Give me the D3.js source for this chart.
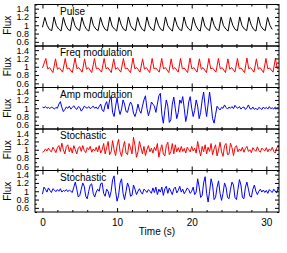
<!DOCTYPE html>
<html><head><meta charset="utf-8">
<script src="https://cdn.jsdelivr.net/npm/d3@7"></script>
<style>body{margin:0;background:#fff}svg{display:block}text{font-family:"Liberation Sans",Arial,sans-serif}</style>
</head><body><svg id="c" width="287" height="253"></svg>
<script>
// ---------------- data ----------------
const panelTitles = ["Pulse", "Freq modulation", "Amp modulation", "Stochastic", "Stochastic"];
const panelColors = ["#000000", "#ff0000", "#0000ff", "#ff0000", "#0000ff"];
const yTickLabels = [0.6, 0.8, 1.0, 1.2, 1.4];
const xTickLabels = [0, 10, 20, 30];

// Pulse: sampled every pulseStep seconds
const pulseStep = 0.311;
const pulseFlux = [0.95,1.19,1.0,0.9, 0.87,1.2,0.99,0.91, 0.86,1.19,1.0,0.9, 0.87,1.2,0.99,0.91,
  0.87,1.19,1.0,0.9, 0.86,1.2,0.99,0.91, 0.87,1.19,1.0,0.9, 0.87,1.2,0.98,0.91, 0.86,1.19,1.0,0.9,
  0.87,1.2,0.99,0.91, 0.87,1.19,1.0,0.9, 0.86,1.2,0.99,0.91, 0.87,1.19,1.0,0.9, 0.87,1.2,0.99,0.91,
  0.86,1.19,1.0,0.9, 0.87,1.2,0.99,0.91, 0.87,1.19,1.0,0.9, 0.86,1.2,0.98,0.91, 0.87,1.19,1.0,0.9,
  0.87,1.2,0.99,0.91, 0.86,1.19,1.0,0.9, 0.87,1.2,0.99,0.91, 0.87,1.19,1.0,0.9, 0.86,1.2,0.99,0.91,
  0.87,1.19,1.0,0.9];

// Frequency modulation: explicit times and fluxes
const freqTime = [0,
  0.45,0.70,0.95,1.40, 1.75,2.00,2.25,2.70, 3.05,3.30,3.55,4.00, 4.37,4.62,4.87,5.32,
  5.65,5.90,6.15,6.60, 6.97,7.22,7.47,7.92, 8.27,8.52,8.77,9.22, 9.55,9.80,10.05,10.50,
  10.85,11.10,11.35,11.80, 12.13,12.38,12.63,13.08, 13.42,13.67,13.92,14.37, 14.70,14.95,15.20,15.65,
  15.98,16.23,16.48,16.93, 17.25,17.50,17.75,18.20, 18.50,18.75,19.00,19.45, 19.77,20.02,20.27,20.72,
  21.03,21.28,21.53,21.98, 22.30,22.55,22.80,23.25, 23.58,23.83,24.08,24.53, 24.85,25.10,25.35,25.80,
  26.13,26.38,26.63,27.08, 27.40,27.65,27.90,28.35, 28.67,28.92,29.17,29.62, 29.95,30.20,30.45,30.90,
  31.22,31.47,31.72,32.00];
const freqFlux = [0.97,
  1.2,0.95,0.98,0.86, 1.19,0.94,0.98,0.87, 1.2,0.95,0.97,0.86, 1.21,0.95,0.98,0.87,
  1.19,0.94,0.98,0.86, 1.2,0.95,0.97,0.87, 1.2,0.95,0.98,0.86, 1.19,0.94,0.98,0.87,
  1.2,0.95,0.97,0.86, 1.21,0.95,0.98,0.87, 1.19,0.94,0.98,0.86, 1.2,0.95,0.97,0.87,
  1.2,0.95,0.98,0.86, 1.19,0.94,0.98,0.87, 1.2,0.95,0.97,0.86, 1.21,0.95,0.98,0.87,
  1.19,0.94,0.98,0.86, 1.2,0.95,0.97,0.87, 1.2,0.95,0.98,0.86, 1.19,0.94,0.98,0.87,
  1.2,0.95,0.97,0.86, 1.21,0.95,0.98,0.87, 1.19,0.94,0.98,0.86, 1.2,0.95,0.97,0.87,
  1.2,0.95,0.98,0.88];

// Amplitude modulation and stochastic series: sampled every sampleStep seconds from t=0
const sampleStep = 0.2;
const ampFlux = [1.03,1.01,1.04,1.0,1.02,0.99,1.03,1.01,0.98,1.02,
  1.0,1.1,1.16,1.02,0.92,0.97,1.03,1.0,1.05,0.98,
  1.02,1.06,1.0,0.97,1.04,1.02,0.93,0.98,1.05,1.02,
  1.0,1.04,0.99,1.02,1.05,1.0,1.03,0.98,1.04,1.1,
  0.96,0.92,1.08,1.16,0.98,1.2,1.28,0.9,0.8,1.05,
  1.25,1.0,0.85,0.98,1.2,1.1,0.92,0.9,1.05,1.15,
  1.08,0.88,0.8,0.92,1.1,0.95,0.88,1.05,1.2,1.3,
  1.0,0.82,0.95,1.15,1.1,1.05,0.9,1.1,1.3,1.36,
  0.85,0.64,0.95,1.2,1.05,0.66,0.72,1.1,1.27,1.0,
  0.75,0.9,1.2,1.12,1.28,1.0,0.68,0.85,1.15,1.28,
  1.0,0.8,0.95,1.2,1.05,0.75,0.9,1.2,1.39,1.05,
  0.8,1.1,1.39,1.1,0.75,0.64,0.85,1.05,1.0,0.96,
  1.02,1.0,1.08,1.02,0.98,1.03,1.0,1.04,0.99,1.07,
  1.02,1.0,1.04,0.98,1.02,1.03,0.97,1.01,1.08,0.99,
  0.98,1.03,0.97,1.0,0.96,1.02,1.0,0.97,1.03,0.99,
  1.02,0.98,1.04,0.99,1.01,0.98,1.03,1.0,1.02,0.99,1.01];

const stochRedFlux = [0.94,0.96,1.02,0.97,1.04,0.98,0.95,1.06,1.0,0.93,
  1.05,1.1,0.96,1.16,1.0,0.9,1.08,1.12,0.95,1.05,
  0.92,1.1,1.0,0.9,1.04,1.08,0.96,1.1,0.98,0.93,
  1.05,1.0,1.08,0.94,1.02,0.97,1.06,0.95,1.1,0.92,
  1.0,1.15,0.9,1.05,1.2,0.88,0.95,1.22,1.0,0.86,
  1.1,1.25,0.95,0.84,1.05,1.2,0.92,0.88,1.15,1.05,
  0.9,1.3,1.1,0.82,0.95,1.2,1.05,0.9,1.08,0.86,
  1.0,1.1,0.95,1.04,0.92,1.06,0.98,1.15,0.82,1.0,
  1.12,0.9,0.85,1.1,1.18,0.88,0.95,1.15,0.9,1.12,
  0.95,1.05,0.94,1.08,0.96,1.03,0.92,1.06,1.0,0.95,
  1.08,0.97,1.04,0.92,1.2,1.0,0.85,1.08,0.95,1.12,
  0.9,1.06,0.96,1.15,0.88,1.02,1.12,0.85,1.0,1.18,
  0.95,0.84,1.1,1.15,0.88,0.9,1.16,1.05,0.86,1.05,
  1.1,0.95,1.02,0.97,1.06,0.94,1.03,1.08,0.96,1.0,
  0.93,1.05,1.0,0.96,1.07,0.98,0.94,1.04,1.0,0.97,
  1.05,0.95,1.02,0.98,1.06,0.96,0.92,1.04,1.1,1.0,1.05];

const stochBlueFlux = [0.93,1.1,1.05,0.98,1.08,1.02,0.97,1.06,1.03,0.99,
  1.04,1.0,1.06,0.98,1.02,1.0,1.04,0.99,1.03,1.0,
  0.97,1.1,1.22,1.05,0.86,0.9,1.05,1.2,1.12,0.88,
  0.82,1.0,1.15,1.18,0.95,0.86,0.98,1.05,1.0,1.18,
  1.2,0.95,0.88,1.05,1.0,0.85,1.0,1.28,1.37,1.0,
  0.76,0.9,1.2,1.3,0.95,0.8,1.0,1.2,1.1,0.88,
  0.9,1.15,1.05,0.92,1.0,1.06,0.98,0.93,1.05,1.02,
  0.97,1.04,1.0,0.95,1.08,0.97,1.1,0.92,1.05,0.98,
  1.1,0.9,1.06,1.12,0.95,1.08,1.0,0.92,1.06,1.1,
  0.96,1.02,1.12,0.98,1.05,0.94,1.0,1.08,1.04,0.95,
  1.0,1.1,0.92,0.98,1.3,1.1,0.85,0.9,1.2,1.35,
  0.95,0.74,1.0,1.3,1.15,0.8,0.85,1.1,1.25,0.95,
  0.78,0.95,1.2,1.1,0.85,0.82,1.05,1.22,1.15,0.85,
  0.8,1.05,1.28,1.15,0.85,0.82,1.1,1.22,1.05,0.88,
  0.86,1.05,1.15,1.0,0.92,1.0,1.05,0.98,1.03,0.97,
  1.02,0.95,1.04,1.0,0.97,1.05,1.0,0.96,1.08,1.02,1.05];

// ---------------- build series ----------------
const uniform = (vals, step) => vals.map((v, i) => ({t: i * step, f: v}));
const series = [
  uniform(pulseFlux, pulseStep),
  freqTime.map((t, i) => ({t, f: freqFlux[i]})),
  uniform(ampFlux, sampleStep),
  uniform(stochRedFlux, sampleStep),
  uniform(stochBlueFlux, sampleStep)
];

// ---------------- layout ----------------
const mLeft = 35, mRight = 279, mTop = 4.5, panelH = 41.5;
const svg = d3.select("#c");

const x = d3.scaleLinear().domain([-1, 31.7]).range([mLeft, mRight]);
const fmt = d => (d === 1 ? "1" : d3.format(".1f")(d));

series.forEach((data, p) => {
  const y0 = mTop + p * panelH;
  const y = d3.scaleLinear().domain([0.5, 1.5]).range([y0 + panelH, y0]);
  const g = svg.append("g");

  const clipId = "clip" + p;
  svg.append("clipPath").attr("id", clipId).append("rect")
    .attr("x", mLeft).attr("y", y0).attr("width", mRight - mLeft).attr("height", panelH);

  g.append("path").datum(data)
    .attr("clip-path", `url(#${clipId})`)
    .attr("fill", "none").attr("stroke", panelColors[p]).attr("stroke-width", 1)
    .attr("d", d3.line().x(d => x(d.t)).y(d => y(d.f)));

  const yMajor = yTickLabels;
  const yMinor = d3.range(0.5, 1.51, 0.1).map(v => +v.toFixed(1)).filter(v => !yMajor.includes(v));
  const xMajor = xTickLabels;
  const xMinor = d3.range(0, 32, 2).filter(v => !xMajor.includes(v));

  const axL = g.append("g").attr("transform", `translate(${mLeft},0)`)
    .call(d3.axisLeft(y).tickValues(yMajor).tickSize(-4).tickPadding(6).tickFormat(fmt));
  g.append("g").attr("transform", `translate(${mLeft},0)`)
    .call(d3.axisLeft(y).tickValues(yMinor).tickSize(-2).tickFormat(""));
  g.append("g").attr("transform", `translate(${mRight},0)`)
    .call(d3.axisRight(y).tickValues(yMajor).tickSize(-4).tickFormat(""));
  g.append("g").attr("transform", `translate(${mRight},0)`)
    .call(d3.axisRight(y).tickValues(yMinor).tickSize(-2).tickFormat(""));
  g.append("g").attr("transform", `translate(0,${y0})`)
    .call(d3.axisTop(x).tickValues(xMajor).tickSize(-4).tickFormat(""));
  g.append("g").attr("transform", `translate(0,${y0})`)
    .call(d3.axisTop(x).tickValues(xMinor).tickSize(-2).tickFormat(""));
  const axB = g.append("g").attr("transform", `translate(0,${y0 + panelH})`)
    .call(d3.axisBottom(x).tickValues(xMajor).tickSize(-4).tickPadding(7)
      .tickFormat(p === series.length - 1 ? d3.format("d") : ""));
  g.append("g").attr("transform", `translate(0,${y0 + panelH})`)
    .call(d3.axisBottom(x).tickValues(xMinor).tickSize(-2).tickFormat(""));

  g.selectAll(".domain").remove();
  g.selectAll(".tick line").attr("stroke", "#000");
  axL.selectAll("text").attr("font-size", 9).attr("fill", "#000");
  axB.selectAll("text").attr("font-size", 10).attr("fill", "#000");

  g.append("rect").attr("x", mLeft).attr("y", y0).attr("width", mRight - mLeft).attr("height", panelH)
    .attr("fill", "none").attr("stroke", "#000").attr("stroke-width", 1);

  g.append("text").attr("x", 60).attr("y", y0 + 10).attr("font-size", 10).text(panelTitles[p]);

  g.append("text").attr("transform", `translate(10.5,${y0 + panelH / 2}) rotate(-90)`)
    .attr("text-anchor", "middle").attr("font-size", 10).text("Flux");
});

svg.append("text").attr("x", (mLeft + mRight) / 2).attr("y", 235)
  .attr("text-anchor", "middle").attr("font-size", 10).text("Time (s)");
</script></body></html>
